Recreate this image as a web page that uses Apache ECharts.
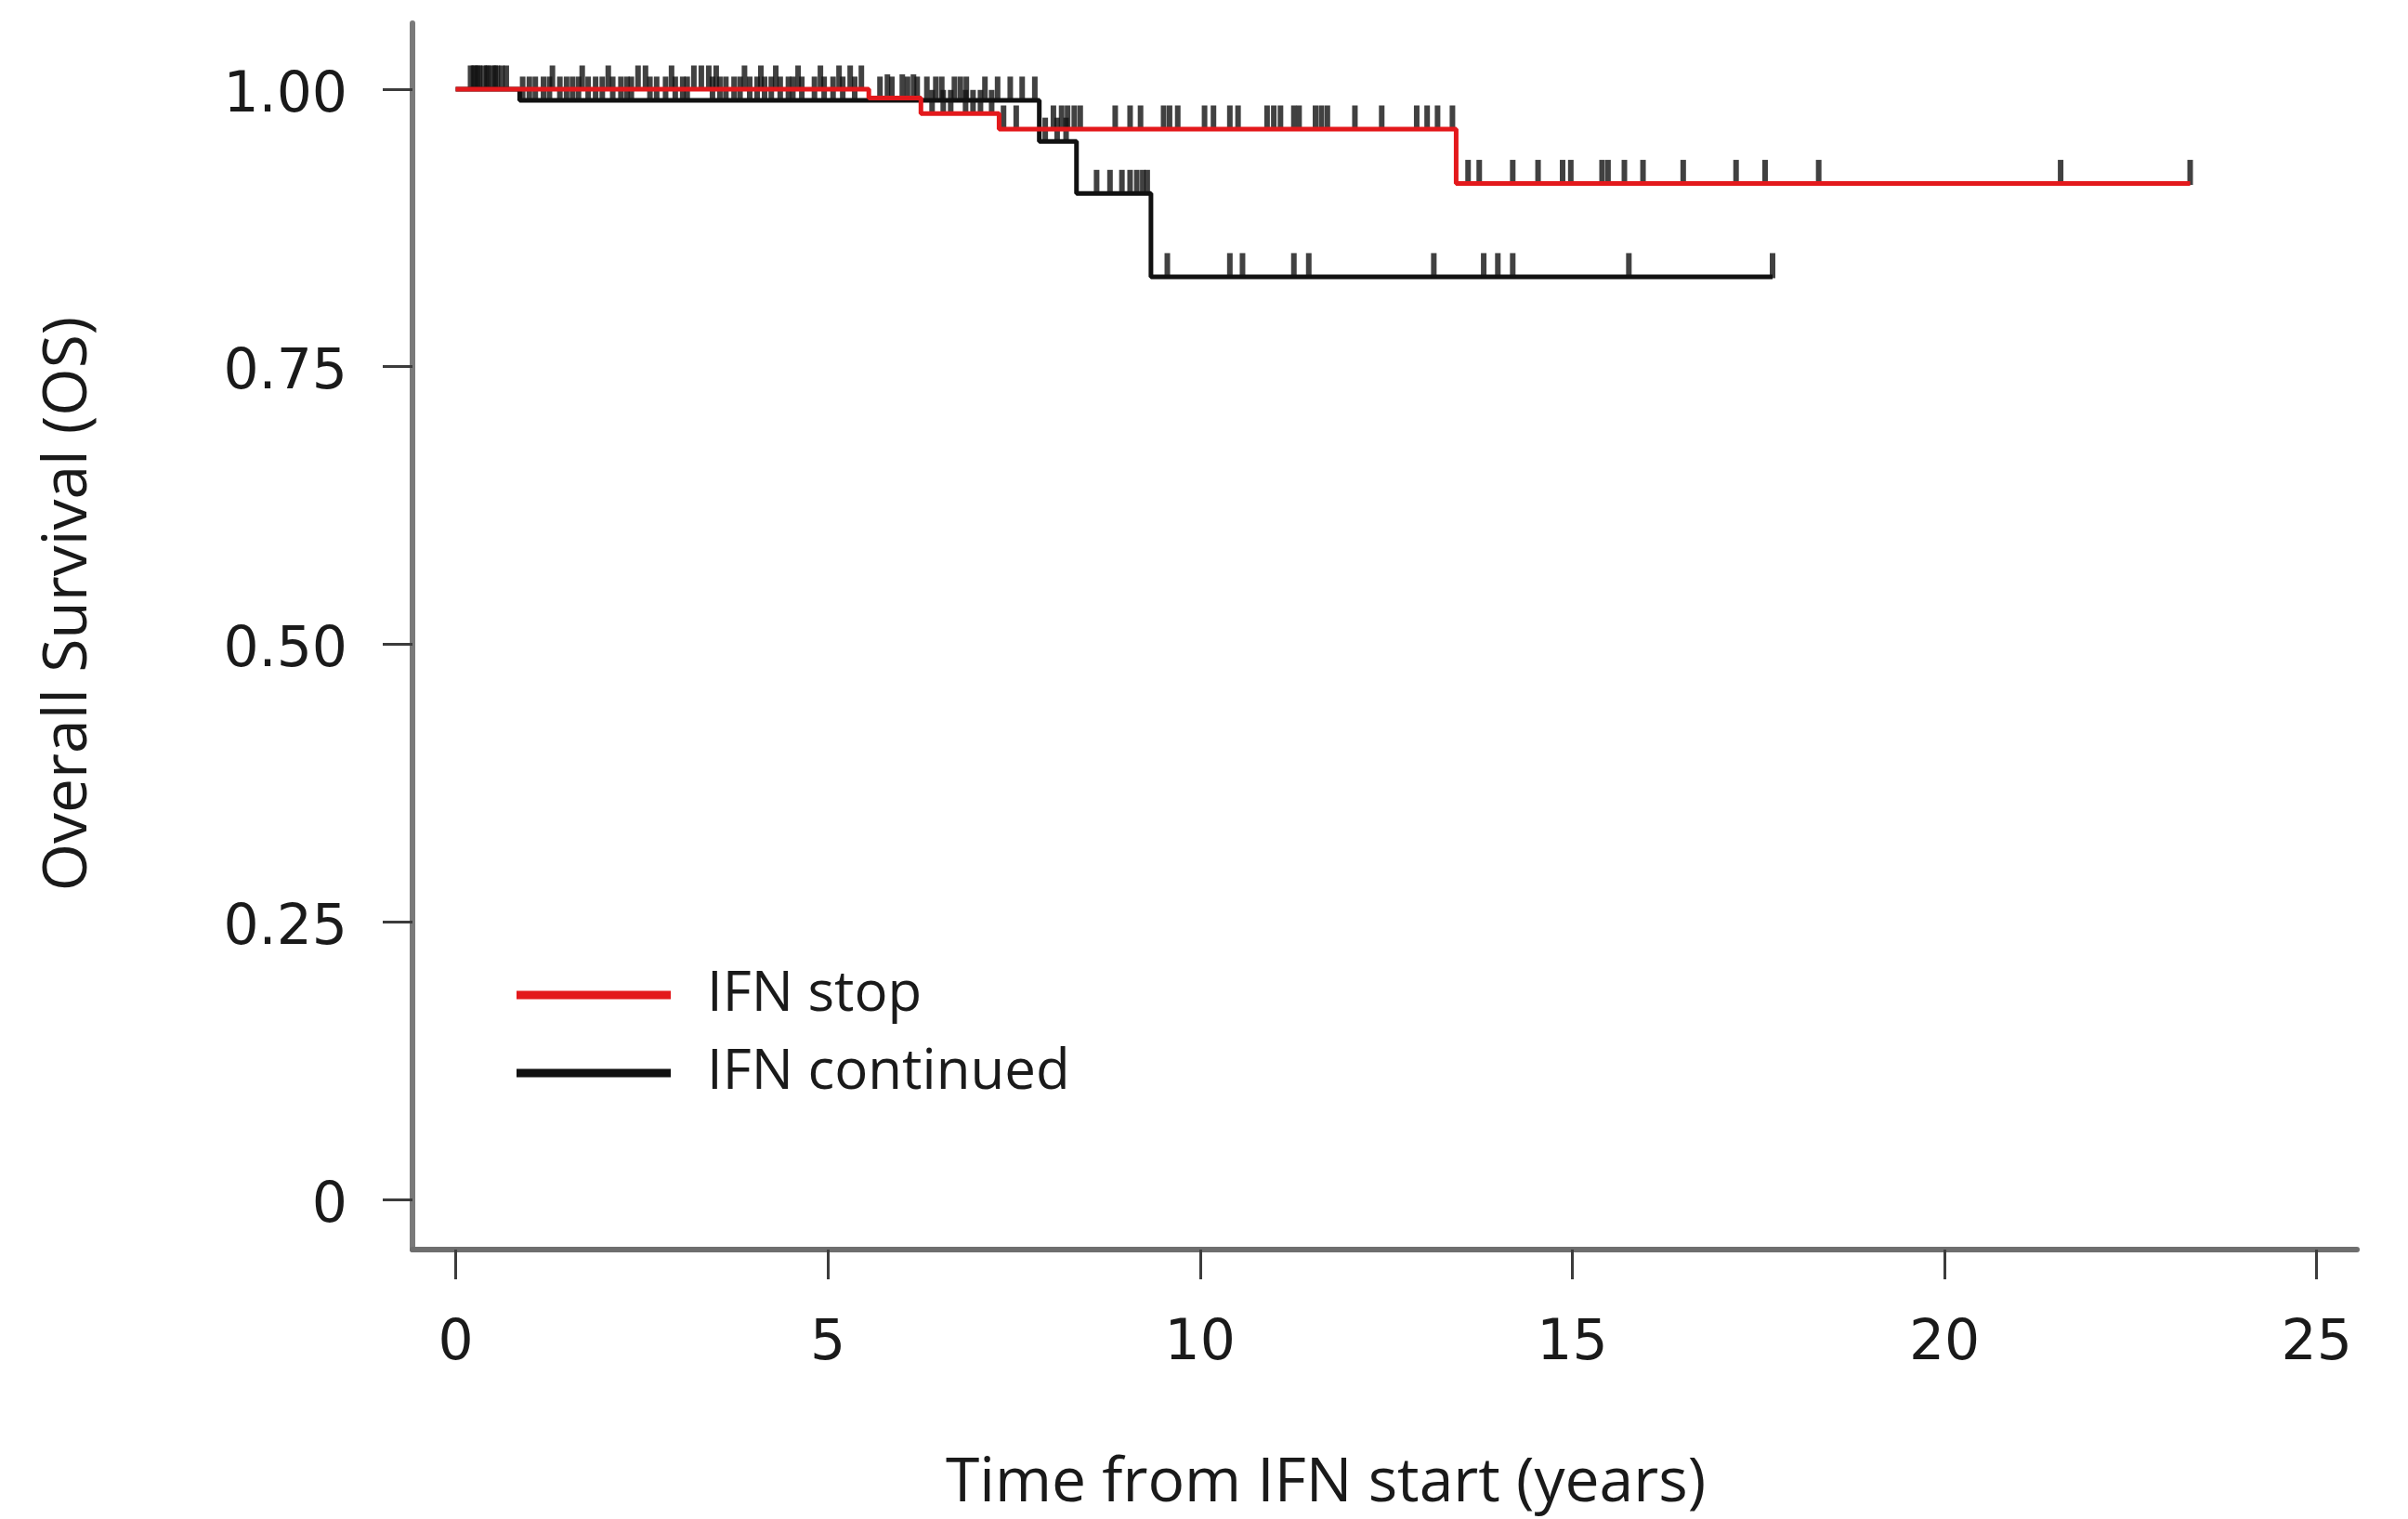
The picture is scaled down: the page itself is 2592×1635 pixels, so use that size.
<!DOCTYPE html>
<html>
<head>
<meta charset="utf-8">
<script src="https://cdn.jsdelivr.net/npm/echarts@6/dist/echarts.min.js"></script>
<style>
html,body{margin:0;padding:0;background:#fff;}
#chart{width:2592px;height:1635px;}
</style>
</head>
<body>
<div id="chart"></div>
<script>
// Kaplan-Meier step curves: time of each step (years) and survival after it
const stopTimes = [0, 5.55, 6.25, 7.3, 13.44, 23.3];
const stopSurv  = [1, 0.992, 0.978, 0.964, 0.915, 0.915];
const contTimes = [0, 0.86, 7.84, 8.34, 9.34, 17.69];
const contSurv  = [1, 0.99, 0.953, 0.906, 0.831, 0.831];

// Censoring times (years)
const stopCensor = [0.24, 0.3, 0.42, 0.53, 1.3, 1.7, 2.05, 2.45, 2.55, 2.9, 3.2, 3.3, 3.4, 3.5, 3.88, 4.1, 4.3, 4.6, 4.9, 5.15, 5.3, 5.45,
  5.8, 6.0, 6.15,
  6.4, 6.55, 6.65, 6.85, 6.95, 7.05, 7.2,
  7.36, 7.53, 8.03, 8.14, 8.22, 8.31, 8.39, 8.86, 9.06, 9.2, 9.51, 9.59, 9.7, 10.06, 10.18, 10.4, 10.51, 10.9, 10.99, 11.08, 11.26, 11.33, 11.55, 11.63, 11.71, 12.08, 12.44, 12.91, 13.05, 13.19, 13.39,
  13.6, 13.75, 14.2, 14.54, 14.87, 14.98, 15.4, 15.48, 15.7, 15.95, 16.49, 17.2, 17.59, 18.31, 21.56, 23.3];
const contCensor = [0.2, 0.26, 0.32, 0.38, 0.44, 0.5, 0.56, 0.62, 0.68,
  0.9, 0.99, 1.07, 1.18, 1.26, 1.4, 1.49, 1.57, 1.65, 1.78, 1.88, 1.97, 2.11, 2.22, 2.3, 2.36, 2.61, 2.7, 2.82, 2.95, 3.05, 3.11, 3.45, 3.55, 3.63, 3.74, 3.82, 3.95, 4.05, 4.15, 4.24, 4.36, 4.47, 4.53, 4.65, 4.82, 4.95, 5.07, 5.2, 5.36, 5.7, 5.86, 6.07, 6.2, 6.33, 6.45, 6.53, 6.7, 6.78, 6.86, 7.11, 7.28, 7.45, 7.61, 7.78,
  7.92, 8.08, 8.2,
  8.61, 8.79, 8.95, 9.06, 9.15, 9.23, 9.29,
  9.56, 10.4, 10.57, 11.26, 11.46, 13.14, 13.81, 14.0, 14.2, 15.76, 17.69];

const xTicks = [0, 5, 10, 15, 20, 25];
const yTicks = [0, 0.25, 0.5, 0.75, 1];
const yTickLabels = ['0', '0.25', '0.50', '0.75', '1.00'];

function survAt(times, surv, t) {
  let s = surv[0];
  for (let i = 0; i < times.length; i++) { if (times[i] <= t) s = surv[i]; }
  return s;
}
const stopLine = stopTimes.map((t, i) => [t, stopSurv[i]]);
const contLine = contTimes.map((t, i) => [t, contSurv[i]]);
const stopMarks = stopCensor.map(t => [t, survAt(stopTimes, stopSurv, t)]);
const contMarks = contCensor.map(t => [t, survAt(contTimes, contSurv, t)]);

const chart = echarts.init(document.getElementById('chart'), null, {renderer: 'canvas'});
const tickMark = {
  type: 'scatter', symbol: 'rect', symbolSize: [6, 27], symbolOffset: [0, -12],
  itemStyle: {color: '#111111'}, z: 3, silent: true
};
chart.setOption({
  animation: false,
  backgroundColor: '#ffffff',
  grid: {left: 444, right: 55, top: 25, bottom: 290, containLabel: false},
  xAxis: {
    type: 'value', min: -0.58, max: 25.54,
    axisLine: {show: true, onZero: false, lineStyle: {color: '#6e6e6e', width: 6}},
    axisTick: {show: true, customValues: xTicks, length: 32, lineStyle: {color: '#3c3c3c', width: 3}},
    axisLabel: {customValues: xTicks, margin: 72, fontFamily: 'DejaVu Sans', fontSize: 60, color: '#1a1a1a'},
    splitLine: {show: false}
  },
  yAxis: {
    type: 'value', min: -0.0452, max: 1.0594,
    axisLine: {show: true, onZero: false, lineStyle: {color: '#7a7a7a', width: 6}},
    axisTick: {show: true, customValues: yTicks, length: 32, lineStyle: {color: '#3c3c3c', width: 3}},
    axisLabel: {customValues: yTicks, margin: 70,
      formatter: v => { const i = yTicks.findIndex(y => Math.abs(y - v) < 1e-6); return i >= 0 ? '{a|' + yTickLabels[i] + '}' : ''; },
      rich: {a: {fontFamily: 'DejaVu Sans', fontSize: 60, color: '#1a1a1a', padding: [16, 0, 0, 0]}}},
    splitLine: {show: false}
  },
  legend: {
    data: ['IFN stop', 'IFN continued'],
    orient: 'vertical', left: 551, top: 1036,
    icon: 'rect', itemWidth: 166, itemHeight: 9, itemGap: 24,
    textStyle: {fontFamily: 'Open Sans', fontSize: 60, lineHeight: 60, color: '#1a1a1a', padding: [0, 0, 0, 34]}
  },
  graphic: [
    {type: 'text', x: 1427, y: 1597, style: {text: 'Time from IFN start (years)', font: '66px "Open Sans"', fill: '#1a1a1a', textAlign: 'center', textVerticalAlign: 'middle'}},
    {type: 'text', x: 74, y: 650, rotation: Math.PI / 2, style: {text: 'Overall Survival (OS)', font: '66px "Open Sans"', fill: '#1a1a1a', textAlign: 'center', textVerticalAlign: 'middle'}}
  ],
  series: [
    {name: 'IFN continued', type: 'line', step: 'end', data: contLine, showSymbol: false, symbol: 'none',
      lineStyle: {color: '#111111', width: 5}, itemStyle: {color: '#111111'}, z: 2},
    {name: 'IFN stop', type: 'line', step: 'end', data: stopLine, showSymbol: false, symbol: 'none',
      lineStyle: {color: '#e3191c', width: 5}, itemStyle: {color: '#e3191c'}, z: 4},
    Object.assign({name: 'contCensor', data: contMarks}, tickMark),
    Object.assign({name: 'stopCensor', data: stopMarks}, tickMark)
  ]
});
</script>
</body>
</html>
